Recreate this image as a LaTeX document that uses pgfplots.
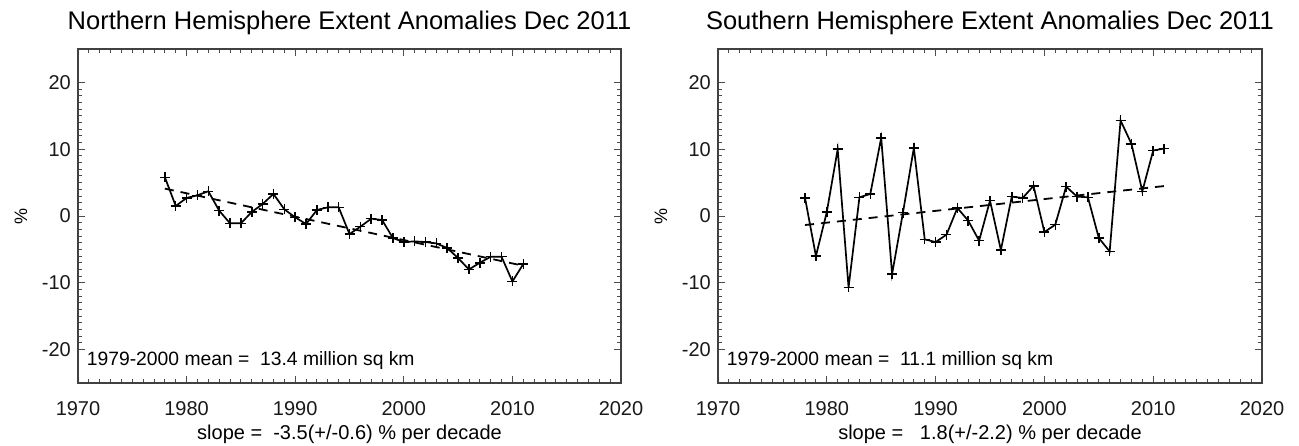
\documentclass[border=0pt]{standalone}
\usepackage{fontspec}
\setmainfont{Liberation Sans}
\usepackage{pgfplots}
\pgfplotsset{compat=1.18}
\pgfplotsset{myax/.style={
  scale only axis, height=334pt,
  xmin=1970, xmax=2020, ymin=-25, ymax=25,
  xtick={1970,1980,1990,2000,2010,2020},
  xticklabels={1970,1980,1990,2000,2010,2020},
  ytick={-20,-10,0,10,20},
  yticklabels={-20,-10,0,10,20},
  minor x tick num=9, minor y tick num=9,
  tick align=inside,
  major tick length=7pt, minor tick length=4pt,
  every tick/.style={black!70, line width=0.9pt},
  axis line style={black!75, line width=1.3pt},
  tick label style={font=\fontsize{20}{24}\selectfont, text=black!90},
  xticklabel style={anchor=base, yshift=-32pt},
  yticklabel style={anchor=east, inner sep=0pt, xshift=-7pt},
  ylabel={\%},
  ylabel style={font=\fontsize{18}{20}\selectfont, at={(axis description cs:0,0.5)}, anchor=center, yshift=57pt},
  xlabel style={font=\fontsize{20}{24}\selectfont, at={(axis description cs:0.5,0)}, anchor=base, yshift=-56pt},
  title style={font=\fontsize{25.5}{30}\selectfont, at={(axis description cs:0.5,1)}, anchor=base, yshift=13pt},
  clip=false,
}}
\begin{document}
\begin{tikzpicture}
\path[use as bounding box] (0,0) rectangle (1299pt,445pt);
\begin{axis}[myax, width=543pt, at={(78pt,62pt)}, anchor=south west,
  title={Northern Hemisphere Extent Anomalies Dec 2011},
  xlabel={slope = \ -3.5(+/-0.6) \% per decade}]
\addplot[black, line width=1.7pt, mark=+, mark size=5pt, mark options={line width=1.5pt, solid}] coordinates {
(1978,5.8) (1979,1.5) (1980,2.7) (1981,3.1) (1982,3.7) (1983,0.8) (1984,-1.1) (1985,-1.1)
(1986,0.6) (1987,1.8) (1988,3.3) (1989,1.0) (1990,-0.2) (1991,-1.2) (1992,0.9) (1993,1.3)
(1994,1.3) (1995,-2.7) (1996,-1.6) (1997,-0.4) (1998,-0.6) (1999,-3.3) (2000,-3.9) (2001,-3.8)
(2002,-3.9) (2003,-4.1) (2004,-4.8) (2005,-6.3) (2006,-8.0) (2007,-7.0) (2008,-6.1) (2009,-6.1)
(2010,-9.8) (2011,-7.2)};
\addplot[black, line width=1.8pt, dash pattern=on 9pt off 7pt] coordinates {(1978,4.1) (2011,-7.45)};
\node[anchor=base west, inner sep=0pt, font=\fontsize{19.3}{22}\selectfont] at (axis cs:1970.8,-22.4) {1979-2000 mean = \ 13.4 million sq km};
\end{axis}
\begin{axis}[myax, width=544pt, at={(718pt,62pt)}, anchor=south west,
  title={Southern Hemisphere Extent Anomalies Dec 2011},
  xlabel={slope = \ \ 1.8(+/-2.2) \% per decade}]
\addplot[black, line width=1.7pt, mark=+, mark size=5pt, mark options={line width=1.5pt, solid}] coordinates {
(1978,2.7) (1979,-6.0) (1980,0.6) (1981,10.0) (1982,-10.7) (1983,2.8) (1984,3.3) (1985,11.7)
(1986,-8.7) (1987,0.5) (1988,10.2) (1989,-3.5) (1990,-3.9) (1991,-2.8) (1992,1.2) (1993,-0.7)
(1994,-3.7) (1995,2.3) (1996,-5.1) (1997,2.9) (1998,2.7) (1999,4.5) (2000,-2.4) (2001,-1.3)
(2002,4.4) (2003,2.9) (2004,2.8) (2005,-3.3) (2006,-5.3) (2007,14.3) (2008,10.8) (2009,3.7)
(2010,9.8) (2011,10.1)};
\addplot[black, line width=1.8pt, dash pattern=on 9pt off 7pt] coordinates {(1978,-1.35) (2011,4.48)};
\node[anchor=base west, inner sep=0pt, font=\fontsize{19.3}{22}\selectfont] at (axis cs:1970.8,-22.4) {1979-2000 mean = \ 11.1 million sq km};
\end{axis}
\end{tikzpicture}
\end{document}
